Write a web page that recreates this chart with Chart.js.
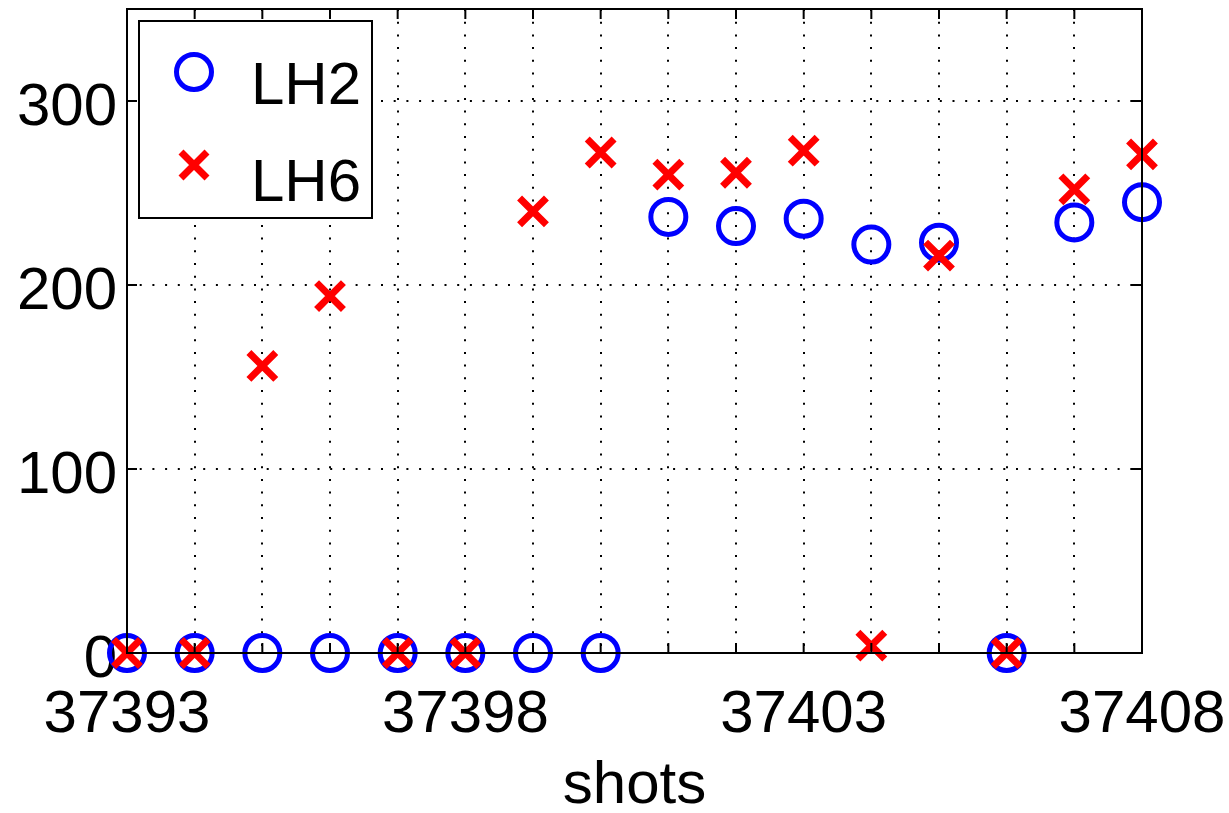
<!DOCTYPE html>
<html>
<head>
<meta charset="utf-8">
<script src="https://cdn.jsdelivr.net/npm/chart.js@4.4.1/dist/chart.umd.min.js"></script>
<style>
  html, body { margin: 0; padding: 0; background: #fff; }
  #wrap { width: 1229px; height: 813px; }
</style>
</head>
<body>
<div id="wrap"><canvas id="shotChart" width="1229" height="813"></canvas></div>
<script>
// shot numbers and measured values
const shots = [37393, 37394, 37395, 37396, 37397, 37398, 37399, 37400,
               37401, 37402, 37403, 37404, 37405, 37406, 37407, 37408];
const lh2 = [0, 0, 0, 0, 0, 0, 0, 0, 237, 232, 236, 222, 223, 0, 234, 245];
const lh6 = [0, 0, 156, 194, 0, 0, 240, 272, 260, 261, 273, 4, 216, 0, 252, 271];
const xTickLabels = [37393, 37398, 37403, 37408];
const yTickValues = [0, 100, 200, 300];

const FONT = 'Liberation Sans, Arial, Helvetica, sans-serif';

function toPoints(values) {
    return shots.map((s, i) => ({ x: s, y: values[i] }));
}

// MATLAB style box: frame, inward tick marks, legend inside the axes
const boxPlugin = {
    id: 'matlabBox',
    afterDatasetsDraw(chart) {
        const ctx = chart.ctx;
        const a = chart.chartArea;
        const xs = chart.scales.x;
        const ys = chart.scales.y;
        ctx.save();
        ctx.strokeStyle = '#000';
        ctx.lineWidth = 2;
        ctx.strokeRect(a.left, a.top, a.right - a.left, a.bottom - a.top);
        ctx.beginPath();
        shots.forEach(s => {
            const px = xs.getPixelForValue(s);
            ctx.moveTo(px, a.bottom); ctx.lineTo(px, a.bottom - 10);
            ctx.moveTo(px, a.top); ctx.lineTo(px, a.top + 10);
        });
        yTickValues.forEach(v => {
            const py = ys.getPixelForValue(v);
            ctx.moveTo(a.left, py); ctx.lineTo(a.left + 10, py);
            ctx.moveTo(a.right, py); ctx.lineTo(a.right - 10, py);
        });
        ctx.stroke();

        // legend
        const lx = a.left + 12, ly = a.top + 12;
        ctx.fillStyle = '#fff';
        ctx.fillRect(lx, ly, 233, 197);
        ctx.lineWidth = 2;
        ctx.strokeRect(lx, ly, 233, 197);

        ctx.strokeStyle = '#0000ff';
        ctx.lineWidth = 5;
        ctx.beginPath();
        ctx.arc(lx + 55, ly + 51, 17.5, 0, Math.PI * 2);
        ctx.stroke();

        ctx.strokeStyle = '#ff0000';
        ctx.lineWidth = 7;
        ctx.beginPath();
        const cx = lx + 55, cy = ly + 144, d = 13;
        ctx.moveTo(cx - d, cy - d); ctx.lineTo(cx + d, cy + d);
        ctx.moveTo(cx + d, cy - d); ctx.lineTo(cx - d, cy + d);
        ctx.stroke();

        ctx.fillStyle = '#000';
        ctx.font = '60px ' + FONT;
        ctx.textBaseline = 'alphabetic';
        ctx.textAlign = 'left';
        ctx.fillText('LH2', lx + 112, ly + 83);
        ctx.fillText('LH6', lx + 112, ly + 180);
        ctx.restore();
    }
};

const ctx = document.getElementById('shotChart');
new Chart(ctx, {
    type: 'scatter',
    data: {
        datasets: [
            {
                label: 'LH2',
                data: toPoints(lh2),
                pointStyle: 'circle',
                pointRadius: 17.5,
                pointBorderWidth: 5,
                borderColor: '#0000ff',
                backgroundColor: 'rgba(0,0,0,0)',
                order: 1,
                clip: false
            },
            {
                label: 'LH6',
                data: toPoints(lh6),
                pointStyle: 'crossRot',
                pointRadius: 19,
                pointBorderWidth: 7,
                borderColor: '#ff0000',
                backgroundColor: '#ff0000',
                order: 0,
                clip: false
            }
        ]
    },
    options: {
        responsive: false,
        animation: false,
        events: [],
        layout: { autoPadding: false, padding: { top: 9, right: 87, left: 0, bottom: 0 } },
        plugins: {
            legend: { display: false },
            tooltip: { enabled: false }
        },
        scales: {
            x: {
                type: 'linear',
                min: 37393,
                max: 37408,
                afterFit: s => { s.height = 160; s.paddingLeft = 0; s.paddingRight = 0; },
                grid: { color: '#000', lineWidth: 2, drawTicks: false },
                border: { display: false, dash: [2, 10.7] },
                ticks: {
                    stepSize: 1,
                    includeBounds: false,
                    autoSkip: false,
                    maxRotation: 0,
                    padding: 26,
                    color: '#000',
                    font: { family: FONT, size: 60 },
                    callback: v => xTickLabels.includes(v) ? String(v) : ''
                },
                title: {
                    display: true,
                    text: 'shots',
                    color: '#000',
                    font: { family: FONT, size: 60, lineHeight: 0.8 },
                    padding: { top: 0, bottom: 3 }
                }
            },
            y: {
                min: 0,
                max: 350,
                afterFit: s => { s.width = 127; s.paddingTop = 0; s.paddingBottom = 0; },
                grid: { color: '#000', lineWidth: 2, drawTicks: false },
                border: { display: false, dash: [2, 10.7] },
                ticks: {
                    stepSize: 100,
                    includeBounds: false,
                    padding: 10,
                    labelOffset: 7,
                    color: '#000',
                    font: { family: FONT, size: 60 }
                }
            }
        }
    },
    plugins: [boxPlugin]
});
</script>
</body>
</html>
